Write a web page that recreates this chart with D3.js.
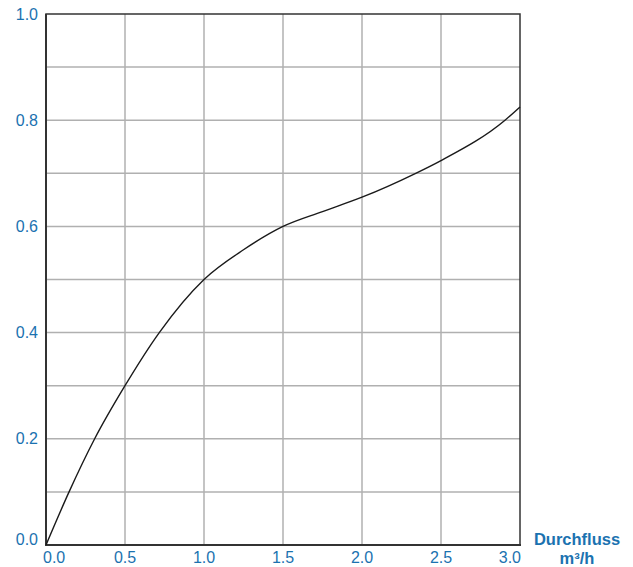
<!DOCTYPE html>
<html><head><meta charset="utf-8">
<script src="https://cdn.jsdelivr.net/npm/d3@7"></script>
<style>body{margin:0;background:#fff}svg{display:block}text{font-family:"Liberation Sans",Arial,sans-serif}</style>
</head><body>
<svg id="c" width="633" height="567"></svg>
<script>
const flowX = [0, 0.146, 0.308, 0.5, 0.717, 1.0, 1.25, 1.5, 1.75, 2.0, 2.34, 2.5, 2.905, 3.0];
const valueY = [0, 0.1, 0.2, 0.3, 0.4, 0.5, 0.556, 0.6, 0.628, 0.655, 0.7, 0.724, 0.8, 0.825];
const xTicks = [0, 0.5, 1.0, 1.5, 2.0, 2.5, 3.0];
const yTicks = [0, 0.2, 0.4, 0.6, 0.8, 1.0];
const yGrid = [0.1,0.2,0.3,0.4,0.5,0.6,0.7,0.8,0.9];
const xLabel = ["Durchfluss", "m³/h"];

const svg = d3.select("#c");
const L=46, R=520, T=14, B=545;
const x = d3.scaleLinear().domain([0,3]).range([L,R]);
const y = d3.scaleLinear().domain([0,1]).range([B,T]);
const blue = "#1b72b0";

svg.append("g").selectAll("line").data(xTicks.slice(1,-1)).join("line")
  .attr("x1",d=>x(d)).attr("x2",d=>x(d)).attr("y1",T).attr("y2",B)
  .attr("stroke","#b0b0b0").attr("stroke-width",1.5);
svg.append("g").selectAll("line").data(yGrid).join("line")
  .attr("y1",d=>y(d)).attr("y2",d=>y(d)).attr("x1",L).attr("x2",R)
  .attr("stroke","#b0b0b0").attr("stroke-width",1.5);

svg.append("rect").attr("x",L).attr("y",T).attr("width",R-L).attr("height",B-T)
  .attr("fill","none").attr("stroke","#333").attr("stroke-width",1.5);
svg.append("line").attr("x1",L).attr("x2",L).attr("y1",T).attr("y2",B).attr("stroke","#333").attr("stroke-width",2);
svg.append("line").attr("x1",L-1).attr("x2",R+1).attr("y1",B).attr("y2",B).attr("stroke","#333").attr("stroke-width",2);

const pts = flowX.map((v,i)=>[v,valueY[i]]);
svg.append("path").datum(pts)
  .attr("d", d3.line().x(d=>x(d[0])).y(d=>y(d[1])).curve(d3.curveMonotoneX))
  .attr("fill","none").attr("stroke","#1a1a1a").attr("stroke-width",1.4);

svg.append("g").selectAll("text").data(yTicks).join("text")
  .attr("x",38).attr("y",d=> d===0 ? y(d)-0.5 : y(d)+5.5)
  .attr("text-anchor","end").attr("fill",blue).attr("font-size",16)
  .text(d=>d.toFixed(1));

svg.append("g").selectAll("text").data(xTicks).join("text")
  .attr("x",(d,i)=> i===0 ? x(d)-3 : (i===xTicks.length-1 ? x(d)+1 : x(d)))
  .attr("y",563)
  .attr("text-anchor",(d,i)=> i===0 ? "start" : (i===xTicks.length-1 ? "end" : "middle"))
  .attr("fill",blue).attr("font-size",16)
  .text(d=>d.toFixed(1));

svg.append("g").selectAll("text").data(xLabel).join("text")
  .attr("x",577).attr("y",(d,i)=> i===0 ? 545 : 563.5)
  .attr("text-anchor","middle").attr("fill",blue).attr("font-size",16.5).attr("font-weight","bold")
  .text(d=>d);
</script>
</body></html>
